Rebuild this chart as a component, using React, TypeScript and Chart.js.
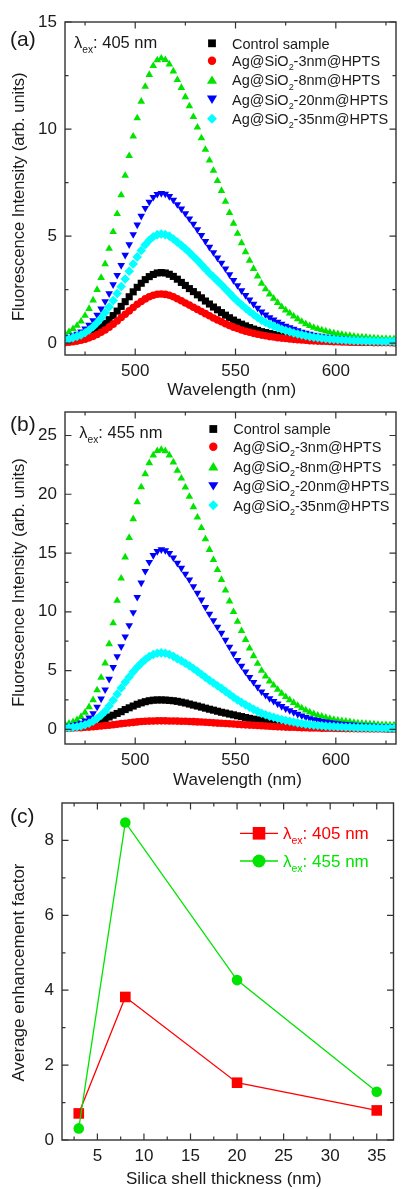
import React, { useEffect, useRef } from 'react';
import { Chart, registerables } from 'chart.js';

Chart.register(...registerables);

const FONT = "'Liberation Sans', Arial, Helvetica, sans-serif";

// ---------- Data ----------
const WAVELENGTHS = [465, 467, 469, 471, 473, 475, 477, 479, 481, 483, 485, 487, 489, 491, 493, 495, 497, 499, 501, 503, 505, 507, 509, 511, 513, 515, 517, 519, 521, 523, 525, 527, 529, 531, 533, 535, 537, 539, 541, 543, 545, 547, 549, 551, 553, 555, 557, 559, 561, 563, 565, 567, 569, 571, 573, 575, 577, 579, 581, 583, 585, 587, 589, 591, 593, 595, 597, 599, 601, 603, 605, 607, 609, 611, 613, 615, 617, 619, 621, 623, 625, 627, 629];

// Panel (a), excitation 405 nm
const A_CONTROL = [0.11, 0.13, 0.17, 0.20, 0.25, 0.32, 0.40, 0.50, 0.62, 0.76, 0.92, 1.10, 1.29, 1.50, 1.72, 1.94, 2.17, 2.40, 2.61, 2.80, 2.97, 3.11, 3.21, 3.28, 3.30, 3.28, 3.22, 3.12, 2.99, 2.84, 2.70, 2.55, 2.41, 2.26, 2.12, 1.97, 1.83, 1.69, 1.56, 1.43, 1.31, 1.19, 1.08, 0.98, 0.89, 0.81, 0.73, 0.66, 0.60, 0.54, 0.50, 0.45, 0.41, 0.37, 0.34, 0.31, 0.28, 0.26, 0.23, 0.21, 0.19, 0.18, 0.16, 0.15, 0.14, 0.13, 0.12, 0.11, 0.10, 0.09, 0.08, 0.08, 0.07, 0.06, 0.06, 0.06, 0.05, 0.05, 0.05, 0.04, 0.04, 0.04, 0.03];
const A_3NM = [0.03, 0.05, 0.07, 0.10, 0.14, 0.19, 0.25, 0.32, 0.41, 0.51, 0.62, 0.75, 0.89, 1.04, 1.20, 1.35, 1.51, 1.67, 1.82, 1.95, 2.07, 2.17, 2.24, 2.29, 2.30, 2.28, 2.24, 2.17, 2.08, 1.98, 1.88, 1.78, 1.68, 1.58, 1.48, 1.38, 1.28, 1.18, 1.09, 1.00, 0.91, 0.83, 0.75, 0.69, 0.62, 0.56, 0.51, 0.46, 0.42, 0.38, 0.35, 0.31, 0.29, 0.26, 0.24, 0.22, 0.20, 0.18, 0.16, 0.15, 0.14, 0.12, 0.11, 0.10, 0.09, 0.09, 0.08, 0.07, 0.07, 0.06, 0.06, 0.05, 0.05, 0.04, 0.04, 0.04, 0.04, 0.03, 0.03, 0.03, 0.03, 0.03, 0.02];
const A_8NM = [0.44, 0.53, 0.67, 0.82, 1.02, 1.29, 1.61, 2.01, 2.50, 3.06, 3.70, 4.42, 5.20, 6.04, 6.92, 7.83, 8.75, 9.66, 10.51, 11.29, 11.98, 12.54, 12.95, 13.22, 13.30, 13.23, 13.03, 12.70, 12.30, 11.93, 11.50, 11.07, 10.57, 10.08, 9.58, 9.04, 8.54, 8.06, 7.58, 7.12, 6.61, 6.09, 5.59, 5.12, 4.68, 4.26, 3.86, 3.48, 3.13, 2.79, 2.53, 2.29, 2.09, 1.89, 1.70, 1.54, 1.40, 1.26, 1.13, 1.01, 0.90, 0.81, 0.73, 0.67, 0.61, 0.56, 0.51, 0.47, 0.43, 0.40, 0.37, 0.35, 0.32, 0.29, 0.28, 0.27, 0.25, 0.24, 0.23, 0.21, 0.21, 0.20, 0.20];
const A_20NM = [0.23, 0.28, 0.35, 0.43, 0.54, 0.68, 0.85, 1.06, 1.32, 1.61, 1.95, 2.32, 2.74, 3.18, 3.64, 4.12, 4.61, 5.08, 5.53, 5.94, 6.31, 6.60, 6.82, 6.96, 7.00, 6.97, 6.86, 6.69, 6.48, 6.28, 6.06, 5.82, 5.57, 5.31, 5.04, 4.76, 4.49, 4.24, 3.99, 3.75, 3.48, 3.21, 2.94, 2.70, 2.46, 2.24, 2.03, 1.83, 1.65, 1.47, 1.33, 1.20, 1.10, 0.99, 0.90, 0.81, 0.74, 0.67, 0.60, 0.53, 0.48, 0.43, 0.39, 0.35, 0.32, 0.29, 0.27, 0.25, 0.22, 0.21, 0.20, 0.18, 0.17, 0.15, 0.15, 0.14, 0.13, 0.13, 0.12, 0.11, 0.11, 0.11, 0.11];
const A_35NM = [0.17, 0.20, 0.26, 0.32, 0.39, 0.49, 0.62, 0.77, 0.96, 1.17, 1.42, 1.69, 1.99, 2.32, 2.65, 3.00, 3.36, 3.70, 4.03, 4.33, 4.60, 4.81, 4.97, 5.07, 5.10, 5.07, 5.00, 4.87, 4.72, 4.57, 4.41, 4.24, 4.05, 3.87, 3.67, 3.47, 3.27, 3.09, 2.91, 2.73, 2.53, 2.34, 2.14, 1.96, 1.80, 1.63, 1.48, 1.34, 1.20, 1.07, 0.97, 0.88, 0.80, 0.72, 0.65, 0.59, 0.54, 0.48, 0.43, 0.39, 0.35, 0.31, 0.28, 0.26, 0.23, 0.21, 0.19, 0.18, 0.16, 0.15, 0.14, 0.13, 0.12, 0.11, 0.11, 0.10, 0.10, 0.09, 0.09, 0.08, 0.08, 0.08, 0.08];

// Panel (b), excitation 455 nm
const B_CONTROL = [0.13, 0.15, 0.18, 0.21, 0.25, 0.31, 0.40, 0.50, 0.63, 0.75, 0.90, 1.05, 1.20, 1.35, 1.50, 1.68, 1.83, 1.98, 2.13, 2.25, 2.35, 2.43, 2.48, 2.50, 2.50, 2.49, 2.46, 2.43, 2.38, 2.31, 2.24, 2.15, 2.06, 1.98, 1.89, 1.80, 1.71, 1.63, 1.54, 1.45, 1.38, 1.30, 1.23, 1.15, 1.08, 1.00, 0.93, 0.86, 0.80, 0.74, 0.68, 0.63, 0.58, 0.53, 0.49, 0.45, 0.41, 0.38, 0.35, 0.33, 0.30, 0.28, 0.25, 0.23, 0.21, 0.20, 0.19, 0.18, 0.16, 0.15, 0.14, 0.13, 0.11, 0.10, 0.10, 0.09, 0.09, 0.08, 0.08, 0.08, 0.06, 0.06, 0.06];
const B_3NM = [0.09, 0.10, 0.12, 0.13, 0.14, 0.17, 0.19, 0.22, 0.25, 0.28, 0.32, 0.35, 0.39, 0.43, 0.48, 0.52, 0.55, 0.59, 0.63, 0.66, 0.68, 0.70, 0.71, 0.72, 0.72, 0.72, 0.71, 0.71, 0.70, 0.69, 0.68, 0.67, 0.65, 0.63, 0.62, 0.60, 0.58, 0.55, 0.53, 0.51, 0.49, 0.47, 0.45, 0.42, 0.40, 0.38, 0.36, 0.34, 0.32, 0.30, 0.28, 0.26, 0.24, 0.22, 0.21, 0.19, 0.18, 0.17, 0.15, 0.14, 0.13, 0.12, 0.12, 0.11, 0.10, 0.09, 0.09, 0.08, 0.07, 0.07, 0.06, 0.06, 0.06, 0.05, 0.05, 0.05, 0.04, 0.04, 0.04, 0.04, 0.03, 0.03, 0.03];
const B_8NM = [0.43, 0.50, 0.62, 0.81, 1.07, 1.43, 1.90, 2.50, 3.33, 4.40, 5.62, 7.26, 9.04, 10.95, 12.85, 14.64, 16.30, 17.90, 19.33, 20.61, 21.73, 22.66, 23.32, 23.70, 23.80, 23.68, 23.32, 22.73, 22.02, 21.35, 20.59, 19.80, 18.92, 18.04, 17.14, 16.18, 15.28, 14.42, 13.57, 12.73, 11.83, 10.90, 10.00, 9.16, 8.38, 7.62, 6.90, 6.24, 5.59, 5.00, 4.52, 4.09, 3.74, 3.38, 3.05, 2.76, 2.50, 2.26, 2.02, 1.81, 1.62, 1.45, 1.31, 1.19, 1.09, 1.00, 0.90, 0.83, 0.76, 0.71, 0.67, 0.62, 0.57, 0.52, 0.50, 0.48, 0.45, 0.43, 0.40, 0.38, 0.38, 0.36, 0.36];
const B_20NM = [0.23, 0.28, 0.34, 0.43, 0.55, 0.73, 0.98, 1.35, 1.91, 2.60, 3.37, 4.28, 5.28, 6.20, 7.04, 7.88, 8.84, 9.95, 11.25, 12.47, 13.46, 14.23, 14.81, 15.15, 15.30, 15.22, 14.99, 14.61, 14.15, 13.72, 13.23, 12.73, 12.16, 11.60, 11.02, 10.40, 9.82, 9.27, 8.72, 8.19, 7.60, 7.01, 6.43, 5.89, 5.39, 4.90, 4.44, 4.01, 3.60, 3.21, 2.91, 2.63, 2.40, 2.17, 1.96, 1.77, 1.61, 1.45, 1.30, 1.16, 1.04, 0.93, 0.84, 0.77, 0.70, 0.64, 0.58, 0.54, 0.49, 0.46, 0.43, 0.40, 0.37, 0.34, 0.32, 0.31, 0.29, 0.28, 0.26, 0.24, 0.24, 0.23, 0.23];
const B_35NM = [0.12, 0.14, 0.17, 0.22, 0.29, 0.39, 0.52, 0.68, 0.91, 1.20, 1.53, 1.98, 2.47, 2.99, 3.51, 4.00, 4.45, 4.89, 5.28, 5.63, 5.93, 6.19, 6.37, 6.47, 6.50, 6.47, 6.37, 6.21, 6.01, 5.83, 5.62, 5.41, 5.17, 4.93, 4.68, 4.42, 4.17, 3.94, 3.71, 3.48, 3.23, 2.98, 2.73, 2.50, 2.29, 2.08, 1.89, 1.70, 1.53, 1.37, 1.24, 1.12, 1.02, 0.92, 0.83, 0.75, 0.68, 0.62, 0.55, 0.49, 0.44, 0.40, 0.36, 0.33, 0.30, 0.27, 0.25, 0.23, 0.21, 0.20, 0.18, 0.17, 0.16, 0.14, 0.14, 0.13, 0.12, 0.12, 0.11, 0.10, 0.10, 0.10, 0.10];

// Panel (c)
const THICKNESS = [3, 8, 20, 35];
const FACTOR_405 = [0.71, 3.82, 1.53, 0.79];
const FACTOR_455 = [0.31, 8.48, 4.27, 1.29];

// Minor tick positions
const X_MINOR_SPEC = [475, 525, 575, 625];
const Y_MINOR_A = [2.5, 7.5, 12.5];
const Y_MINOR_B = [2.5, 7.5, 12.5, 17.5, 22.5];
const X_MINOR_C = [2.5, 7.5, 12.5, 17.5, 22.5, 27.5, 32.5];
const Y_MINOR_C = [1, 3, 5, 7];

type Run = { t: string; sub?: boolean };
const SPECTRA_LABELS: Run[][] = [
  [{ t: 'Control sample' }],
  [{ t: 'Ag@SiO' }, { t: '2', sub: true }, { t: '-3nm@HPTS' }],
  [{ t: 'Ag@SiO' }, { t: '2', sub: true }, { t: '-8nm@HPTS' }],
  [{ t: 'Ag@SiO' }, { t: '2', sub: true }, { t: '-20nm@HPTS' }],
  [{ t: 'Ag@SiO' }, { t: '2', sub: true }, { t: '-35nm@HPTS' }],
];

const SERIES_STYLE = [
  { color: '#000000', pointStyle: 'rect', radius: 5.0, rotation: 0, legend: 'square', order: 5 },
  { color: '#ff0000', pointStyle: 'circle', radius: 3.8, rotation: 0, legend: 'circle', order: 4 },
  { color: '#00e400', pointStyle: 'triangle', radius: 4.4, rotation: 0, legend: 'up', order: 3 },
  { color: '#0000ff', pointStyle: 'triangle', radius: 4.4, rotation: 180, legend: 'down', order: 2 },
  { color: '#00ffff', pointStyle: 'rectRot', radius: 4.8, rotation: 0, legend: 'diamond', order: 1 },
];

const INK = '#1a1a1a';

// ---------- Drawing helpers ----------
function drawRuns(ctx: CanvasRenderingContext2D, runs: Run[], x: number, y: number, size: number, color: string) {
  let cx = x;
  ctx.fillStyle = color;
  ctx.textAlign = 'left';
  ctx.textBaseline = 'alphabetic';
  for (const r of runs) {
    const s = r.sub ? size * 0.62 : size;
    ctx.font = `${s}px ${FONT}`;
    ctx.fillText(r.t, cx, r.sub ? y + size * 0.3 : y);
    cx += ctx.measureText(r.t).width;
  }
}

function drawMarker(ctx: CanvasRenderingContext2D, kind: string, x: number, y: number, s: number, color: string) {
  ctx.fillStyle = color;
  ctx.beginPath();
  if (kind === 'square') ctx.rect(x - s, y - s, 2 * s, 2 * s);
  else if (kind === 'circle') ctx.arc(x, y, s, 0, Math.PI * 2);
  else if (kind === 'up') { ctx.moveTo(x, y - s); ctx.lineTo(x + s * 1.1, y + s * 0.8); ctx.lineTo(x - s * 1.1, y + s * 0.8); ctx.closePath(); }
  else if (kind === 'down') { ctx.moveTo(x, y + s); ctx.lineTo(x + s * 1.1, y - s * 0.8); ctx.lineTo(x - s * 1.1, y - s * 0.8); ctx.closePath(); }
  else if (kind === 'diamond') { ctx.moveTo(x, y - s); ctx.lineTo(x + s, y); ctx.lineTo(x, y + s); ctx.lineTo(x - s, y); ctx.closePath(); }
  ctx.fill();
}

function drawFrameAndTicks(chart: any, xMinor: number[], yMinor: number[]) {
  const ctx: CanvasRenderingContext2D = chart.ctx;
  const { left, right, top, bottom } = chart.chartArea;
  const xs = chart.scales.x;
  const ys = chart.scales.y;
  const MAJ = 6.5;
  const MIN = 3.5;
  ctx.save();
  ctx.strokeStyle = '#333333';
  ctx.lineWidth = 1.2;
  ctx.beginPath();
  const vx = (v: number, len: number) => {
    const p = xs.getPixelForValue(v);
    ctx.moveTo(p, bottom); ctx.lineTo(p, bottom - len);
    ctx.moveTo(p, top); ctx.lineTo(p, top + len);
  };
  const vy = (v: number, len: number) => {
    const p = ys.getPixelForValue(v);
    ctx.moveTo(left, p); ctx.lineTo(left + len, p);
    ctx.moveTo(right, p); ctx.lineTo(right - len, p);
  };
  xs.ticks.forEach((t: any) => vx(t.value, MAJ));
  xMinor.forEach((v) => vx(v, MIN));
  ys.ticks.forEach((t: any) => vy(t.value, MAJ));
  yMinor.forEach((v) => vy(v, MIN));
  ctx.stroke();
  ctx.lineWidth = 1.4;
  ctx.strokeRect(left, top, right - left, bottom - top);
  ctx.restore();
}

function drawYTitle(ctx: CanvasRenderingContext2D, text: string, cx: number, cy: number, size: number) {
  ctx.save();
  ctx.translate(cx, cy);
  ctx.rotate(-Math.PI / 2);
  ctx.font = `${size}px ${FONT}`;
  ctx.fillStyle = INK;
  ctx.textAlign = 'center';
  ctx.textBaseline = 'middle';
  ctx.fillText(text, 0, 0);
  ctx.restore();
}

function drawXTitle(ctx: CanvasRenderingContext2D, text: string, cx: number, baseline: number, size: number) {
  ctx.save();
  ctx.font = `${size}px ${FONT}`;
  ctx.fillStyle = INK;
  ctx.textAlign = 'center';
  ctx.textBaseline = 'alphabetic';
  ctx.fillText(text, cx, baseline);
  ctx.restore();
}

function drawPanelLabel(ctx: CanvasRenderingContext2D, text: string, x: number, baseline: number) {
  ctx.save();
  ctx.font = `21px ${FONT}`;
  ctx.fillStyle = INK;
  ctx.textAlign = 'left';
  ctx.textBaseline = 'alphabetic';
  ctx.fillText(text, x, baseline);
  ctx.restore();
}

// ---------- Chart builders ----------
function axisBase(min: number, max: number, step: number, padding: number) {
  return {
    type: 'linear' as const,
    min,
    max,
    grid: { display: false, drawTicks: false },
    border: { display: false },
    ticks: {
      stepSize: step,
      includeBounds: false,
      autoSkip: false,
      maxRotation: 0,
      padding,
      color: INK,
      font: { family: FONT, size: 17 },
    },
  };
}

interface SpectraOpts {
  height: number;
  top: number;
  bottom: number;
  left: number;
  yMin: number;
  yMax: number;
  yStep: number;
  yMinor: number[];
  series: number[][];
  text: (ctx: CanvasRenderingContext2D) => void;
}

function spectraConfig(o: SpectraOpts): any {
  const datasets = o.series.map((arr, i) => {
    const st = SERIES_STYLE[i];
    return {
      label: SPECTRA_LABELS[i].map((r) => r.t).join(''),
      data: WAVELENGTHS.map((w, k) => ({ x: w, y: arr[k] })),
      showLine: false,
      pointStyle: st.pointStyle,
      pointRotation: st.rotation,
      pointRadius: st.radius,
      pointBackgroundColor: st.color,
      pointBorderColor: st.color,
      pointBorderWidth: 0,
      borderColor: st.color,
      backgroundColor: st.color,
      order: st.order,
      clip: 0,
    };
  });
  const x = axisBase(465, 630, 50, 6) as any;
  x.afterFit = (s: any) => { s.height = o.height - o.bottom; s.paddingLeft = 0; s.paddingRight = 0; };
  const y = axisBase(o.yMin, o.yMax, o.yStep, 8) as any;
  y.afterFit = (s: any) => { s.width = o.left; s.paddingTop = 0; s.paddingBottom = 0; };
  return {
    type: 'scatter',
    data: { datasets },
    options: {
      animation: false,
      responsive: false,
      devicePixelRatio: 1,
      layout: { padding: { top: o.top, right: 2, left: 0, bottom: 0 } },
      plugins: { legend: { display: false }, tooltip: { enabled: false }, title: { display: false } },
      scales: { x, y },
    },
    plugins: [
      {
        id: 'decor',
        afterDraw(chart: any) {
          drawFrameAndTicks(chart, X_MINOR_SPEC, o.yMinor);
          const ctx: CanvasRenderingContext2D = chart.ctx;
          ctx.save();
          o.text(ctx);
          ctx.restore();
        },
      },
    ],
  };
}

function spectraLegend(ctx: CanvasRenderingContext2D, mx: number, tx: number, rows: number[]) {
  const sizes = [3.9, 4.2, 4.6, 4.6, 5.0];
  rows.forEach((y, i) => {
    drawMarker(ctx, SERIES_STYLE[i].legend, mx, y, sizes[i], SERIES_STYLE[i].color);
    drawRuns(ctx, SPECTRA_LABELS[i], tx, y + 5.2, 14.5, INK);
  });
}

function lambdaLabel(ctx: CanvasRenderingContext2D, value: string, x: number, baseline: number, size: number, color: string) {
  drawRuns(ctx, [{ t: 'λ' }, { t: 'ex', sub: true }, { t: `: ${value} nm` }], x, baseline, size, color);
}

const configA = () =>
  spectraConfig({
    height: 400,
    top: 22,
    bottom: 355,
    left: 65,
    yMin: -0.55,
    yMax: 15,
    yStep: 5,
    yMinor: Y_MINOR_A,
    series: [A_CONTROL, A_3NM, A_8NM, A_20NM, A_35NM],
    text: (ctx) => {
      drawPanelLabel(ctx, '(a)', 10, 45.5);
      lambdaLabel(ctx, '405', 74, 48, 16.5, INK);
      spectraLegend(ctx, 212, 232, [43.3, 60.7, 80, 99.3, 118.7]);
      drawYTitle(ctx, 'Fluorescence Intensity (arb. units)', 19.3, 196.7, 16.5);
      drawXTitle(ctx, 'Wavelength (nm)', 231.7, 394.5, 17);
    },
  });

const configB = () =>
  spectraConfig({
    height: 390,
    top: 12,
    bottom: 344,
    left: 65,
    yMin: -1.25,
    yMax: 27,
    yStep: 5,
    yMinor: Y_MINOR_B,
    series: [B_CONTROL, B_3NM, B_8NM, B_20NM, B_35NM],
    text: (ctx) => {
      drawPanelLabel(ctx, '(b)', 10, 31);
      lambdaLabel(ctx, '455', 79.3, 38.3, 16.5, INK);
      spectraLegend(ctx, 213.3, 233.3, [29, 46.7, 66.7, 86, 105.3]);
      drawYTitle(ctx, 'Fluorescence Intensity (arb. units)', 19.3, 182.5, 16.5);
      drawXTitle(ctx, 'Wavelength (nm)', 237.5, 385, 17);
    },
  });

const RED = '#ff0000';
const GREEN = '#00e400';

const configC = (): any => {
  const H = 399;
  const x = axisBase(1.2, 36.8, 5, 6) as any;
  x.afterFit = (s: any) => { s.height = H - 350; s.paddingLeft = 0; s.paddingRight = 0; };
  const y = axisBase(0, 9, 2, 8) as any;
  y.afterFit = (s: any) => { s.width = 62; s.paddingTop = 0; s.paddingBottom = 0; };
  return {
    type: 'scatter',
    data: {
      datasets: [
        {
          label: 'λex: 405 nm',
          data: THICKNESS.map((t, i) => ({ x: t, y: FACTOR_405[i] })),
          showLine: true,
          borderColor: RED,
          borderWidth: 1.3,
          backgroundColor: RED,
          pointStyle: 'rect',
          pointRadius: 7.5,
          pointBackgroundColor: RED,
          pointBorderWidth: 0,
          order: 1,
          clip: false,
        },
        {
          label: 'λex: 455 nm',
          data: THICKNESS.map((t, i) => ({ x: t, y: FACTOR_455[i] })),
          showLine: true,
          borderColor: GREEN,
          borderWidth: 1.3,
          backgroundColor: GREEN,
          pointStyle: 'circle',
          pointRadius: 5.3,
          pointBackgroundColor: GREEN,
          pointBorderWidth: 0,
          order: 0,
          clip: false,
        },
      ],
    },
    options: {
      animation: false,
      responsive: false,
      devicePixelRatio: 1,
      layout: { padding: { top: 13, right: 2, left: 0, bottom: 0 } },
      plugins: { legend: { display: false }, tooltip: { enabled: false }, title: { display: false } },
      scales: { x, y },
    },
    plugins: [
      {
        id: 'decorC',
        afterDraw(chart: any) {
          drawFrameAndTicks(chart, X_MINOR_C, Y_MINOR_C);
          const ctx: CanvasRenderingContext2D = chart.ctx;
          ctx.save();
          drawPanelLabel(ctx, '(c)', 10, 33);
          const rows = [
            { y: 43.3, color: RED, kind: 'square', s: 6.3, value: '405' },
            { y: 71, color: GREEN, kind: 'circle', s: 6.5, value: '455' },
          ];
          rows.forEach((r) => {
            ctx.strokeStyle = r.color;
            ctx.lineWidth = 1.3;
            ctx.beginPath();
            ctx.moveTo(240, r.y);
            ctx.lineTo(278, r.y);
            ctx.stroke();
            drawMarker(ctx, r.kind, 259, r.y, r.s, r.color);
            lambdaLabel(ctx, r.value, 283, r.y + 5.8, 17, r.color);
          });
          drawYTitle(ctx, 'Average enhancement factor', 19.3, 182.5, 17);
          drawXTitle(ctx, 'Silica shell thickness (nm)', 223.8, 394, 17);
          ctx.restore();
        },
      },
    ],
  };
};

// ---------- Components ----------
function ChartCanvas({ top, height, build }: { top: number; height: number; build: () => any }) {
  const ref = useRef<HTMLCanvasElement | null>(null);
  useEffect(() => {
    if (!ref.current) return;
    const chart = new Chart(ref.current, build());
    return () => chart.destroy();
  }, []);
  return (
    <div style={{ position: 'absolute', left: 0, top, width: 401, height }}>
      <canvas ref={ref} width={401} height={height} style={{ display: 'block', width: 401, height }} />
    </div>
  );
}

export default function App() {
  return (
    <div style={{ position: 'fixed', left: 0, top: 0, width: 401, height: 1189, background: '#ffffff', overflow: 'hidden' }}>
      <ChartCanvas top={0} height={400} build={configA} />
      <ChartCanvas top={400} height={390} build={configB} />
      <ChartCanvas top={790} height={399} build={configC} />
    </div>
  );
}
